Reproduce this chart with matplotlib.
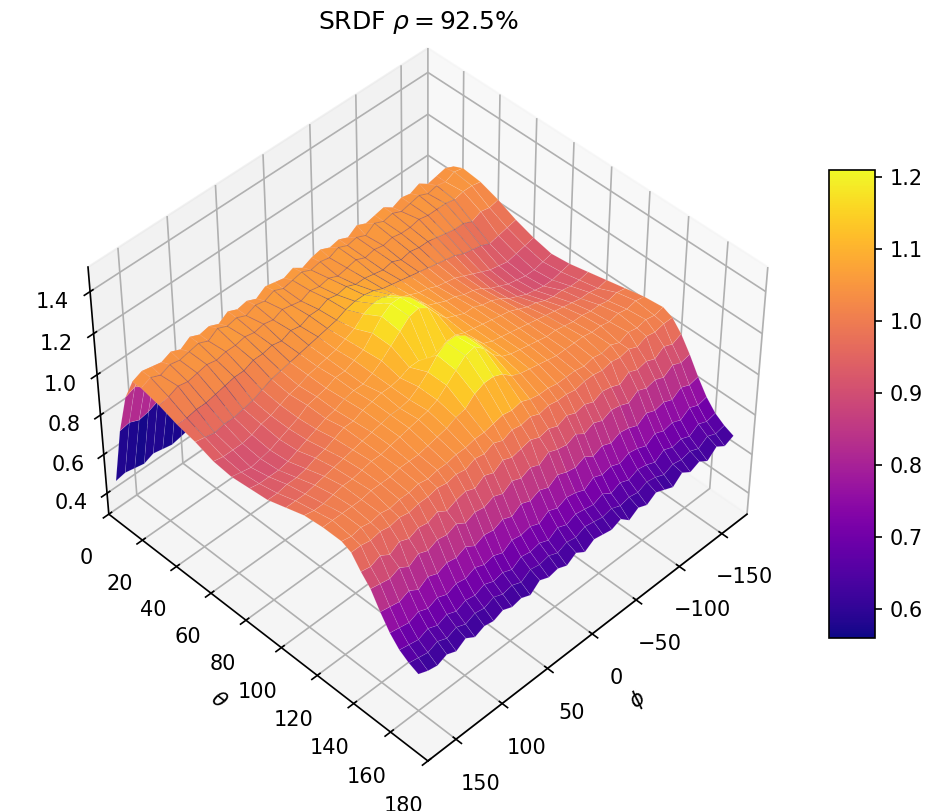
import numpy as np
import matplotlib
matplotlib.use("Agg")
import matplotlib.pyplot as plt

phi=[-180,-170,-160,-150,-140,-130,-120,-110,-100,-90,-80,-70,-60,-50,-40,-30,-20,-10,0,10,20,30,40,50,60,70,80,90,100,110,120,130,140,150,160,170]
theta=[0,5,10,15,20,30,40,50,60,70,80,90,100,110,120,130,135,140,145,150,155,160,165,170]

phi_ticks=[-150,-100,-50,0,50,100,150]
theta_ticks=[0,20,40,60,80,100,120,140,160,180]
z_ticks=[0.4,0.6,0.8,1.0,1.2,1.4]
cbar_ticks=[0.6,0.7,0.8,0.9,1.0,1.1,1.2]

srdf=[
[.43,.44,.42,.44,.43,.42,.44,.43,.43,.42,.44,.43,.42,.43,.44,.42,.43,.44,.43,.42,.44,.43,.42,.43,.44,.43,.42,.44,.43,.42,.43,.44,.42,.43,.44,.43],
[.72,.71,.73,.71,.72,.74,.71,.73,.72,.71,.73,.72,.74,.71,.72,.73,.71,.72,.74,.72,.71,.73,.72,.71,.74,.72,.73,.71,.72,.73,.71,.74,.72,.71,.73,.72],
[.92,.93,.91,.94,.92,.93,.95,.92,.93,.91,.94,.93,.92,.95,.93,.92,.94,.93,.95,.92,.94,.93,.91,.94,.92,.93,.95,.92,.93,.91,.94,.92,.93,.91,.94,.92],
[1.03,1.05,1.04,1.03,1.06,1.04,1.05,1.03,1.06,1.05,1.04,1.06,1.03,1.05,1.04,1.06,1.05,1.03,1.06,1.04,1.05,1.06,1.03,1.05,1.04,1.06,1.03,1.05,1.04,1.06,1.03,1.05,1.03,1.04,1.05,1.03],
[1.05,1.06,1.04,1.05,1.04,1.06,1.05,1.04,1.06,1.05,1.07,1.04,1.06,1.05,1.07,1.05,1.06,1.05,1.07,1.06,1.05,1.07,1.05,1.06,1.04,1.06,1.05,1.07,1.04,1.06,1.05,1.04,1.05,1.03,1.05,1.03],
[1.04,1.05,1.05,1.04,1.05,1.05,1.05,1.06,1.05,1.05,1.06,1.05,1.06,1.05,1.07,1.06,1.05,1.07,1.06,1.07,1.05,1.06,1.07,1.05,1.06,1.05,1.06,1.05,1.05,1.04,1.05,1.04,1.03,1.04,1.02,1.01],
[1.01,1.00,1.01,.99,1.01,1.01,1.02,1.03,1.04,1.04,1.05,1.04,1.06,1.05,1.06,1.07,1.07,1.09,1.08,1.09,1.07,1.07,1.05,1.06,1.04,1.05,1.04,1.04,1.02,1.02,1.01,1.00,.99,.99,.98,.98],
[.97,.96,.95,.94,.96,.97,.98,1.00,1.01,1.02,1.03,1.04,1.05,1.06,1.07,1.08,1.10,1.11,1.11,1.10,1.08,1.07,1.06,1.05,1.04,1.03,1.02,1.01,.99,.97,.96,.95,.95,.94,.95,.96],
[.94,.93,.92,.91,.92,.93,.95,.97,.99,1.01,1.02,1.03,1.05,1.06,1.08,1.10,1.14,1.16,1.16,1.14,1.10,1.08,1.06,1.05,1.04,1.03,1.01,1.00,.98,.96,.95,.93,.92,.92,.92,.93],
[.92,.91,.90,.90,.91,.92,.94,.96,.99,1.01,1.02,1.04,1.05,1.07,1.09,1.14,1.19,1.22,1.22,1.19,1.14,1.09,1.07,1.05,1.05,1.03,1.02,1.01,.98,.96,.94,.92,.91,.90,.91,.92],
[.93,.92,.91,.91,.92,.93,.95,.97,1.00,1.02,1.03,1.05,1.05,1.07,1.09,1.14,1.20,1.23,1.22,1.18,1.14,1.10,1.07,1.05,1.05,1.04,1.02,1.01,.99,.97,.95,.93,.92,.92,.92,.93],
[.95,.94,.94,.95,.95,.96,.98,.99,1.01,1.03,1.04,1.05,1.06,1.07,1.08,1.10,1.10,1.07,1.07,1.10,1.10,1.08,1.07,1.07,1.06,1.05,1.03,1.03,1.01,.99,.98,.96,.95,.95,.94,.94],
[.97,.96,.97,.97,.98,.99,1.00,1.01,1.02,1.03,1.04,1.05,1.06,1.07,1.09,1.14,1.19,1.22,1.22,1.19,1.14,1.10,1.07,1.06,1.06,1.05,1.04,1.03,1.02,1.01,1.00,.99,.98,.97,.97,.97],
[.99,1.00,.99,1.00,1.00,1.01,1.01,1.02,1.03,1.03,1.04,1.05,1.06,1.07,1.09,1.13,1.19,1.23,1.22,1.18,1.14,1.10,1.08,1.07,1.06,1.05,1.04,1.03,1.03,1.02,1.01,1.01,1.00,.99,.99,1.00],
[1.01,1.02,1.01,1.02,1.01,1.02,1.02,1.03,1.03,1.03,1.03,1.04,1.05,1.06,1.07,1.09,1.13,1.15,1.15,1.13,1.09,1.08,1.06,1.05,1.04,1.03,1.03,1.03,1.02,1.02,1.02,1.01,1.01,1.01,1.01,1.01],
[1.02,1.01,1.02,1.01,1.02,1.00,1.02,1.01,1.02,1.01,1.02,1.02,1.02,1.03,1.03,1.04,1.06,1.05,1.06,1.05,1.04,1.04,1.03,1.03,1.02,1.02,1.01,1.02,1.01,1.01,1.00,1.01,1.00,1.01,1.00,1.01],
[1.00,1.00,.99,1.00,.98,1.00,.99,1.00,.99,1.00,1.00,.99,1.00,1.00,1.01,1.00,1.02,1.01,1.02,1.00,1.02,1.00,1.01,.99,1.00,.99,1.00,.99,.99,.98,.99,.98,.99,.98,.99,.99],
[.95,.93,.95,.92,.94,.93,.95,.92,.94,.95,.93,.95,.94,.96,.94,.96,.95,.97,.96,.95,.97,.94,.96,.93,.95,.94,.92,.95,.93,.94,.92,.94,.91,.94,.92,.93],
[.88,.87,.89,.86,.88,.87,.89,.86,.88,.89,.87,.89,.87,.90,.88,.89,.91,.88,.90,.88,.90,.87,.89,.87,.88,.86,.89,.87,.88,.86,.88,.85,.88,.86,.87,.88],
[.80,.79,.81,.78,.80,.79,.81,.78,.80,.81,.79,.81,.79,.82,.80,.81,.83,.80,.82,.80,.82,.79,.81,.79,.80,.78,.81,.79,.80,.78,.80,.77,.80,.78,.79,.80],
[.73,.72,.74,.71,.73,.72,.74,.71,.73,.74,.72,.74,.73,.75,.72,.74,.75,.73,.75,.72,.74,.73,.74,.71,.73,.72,.74,.72,.73,.71,.73,.71,.73,.71,.72,.73],
[.68,.67,.69,.66,.68,.67,.69,.66,.68,.69,.67,.69,.67,.70,.68,.69,.70,.68,.70,.67,.69,.68,.69,.66,.68,.67,.69,.67,.68,.66,.68,.66,.68,.66,.67,.68],
[.65,.64,.66,.63,.65,.64,.65,.63,.65,.66,.64,.65,.64,.66,.65,.66,.67,.65,.66,.64,.66,.65,.66,.63,.65,.64,.66,.64,.65,.63,.65,.63,.65,.63,.64,.65],
[.63,.61,.64,.60,.63,.61,.64,.60,.62,.64,.61,.63,.60,.64,.62,.63,.64,.61,.64,.61,.63,.62,.64,.60,.62,.61,.63,.61,.62,.60,.63,.60,.62,.60,.61,.63],
]

X,Y=np.meshgrid(phi,theta)
Z=np.array(srdf)

W,H=946,811
fig=plt.figure(figsize=(W/150,H/150),dpi=150)
ax=fig.add_subplot(projection="3d",computed_zorder=False)
ax.set_position([0.032,0.0555,0.820,0.892])
ax.view_init(elev=45,azim=45)
surf=ax.plot_surface(X,Y,Z,cmap="plasma",vmin=0.56,vmax=1.21,linewidth=0.3,edgecolor=(1,1,1,0.15),antialiased=True,rstride=1,cstride=1,zorder=1)
# dark seams of the far slope showing through near the ridge
ax.plot_wireframe(X[4:8,3:-1],Y[4:8,3:-1],Z[4:8,3:-1],color="#4a2a48",alpha=0.35,linewidth=0.4,rstride=1,cstride=1,zorder=2)
ax.set_xlim(-180,180)
ax.set_ylim(0,180)
ax.set_zlim(0.29,1.515)
ax.set_xticks(phi_ticks)
ax.set_yticks(theta_ticks)
ax.set_zticks(z_ticks)
ax.tick_params(axis="x",pad=5)
ax.tick_params(axis="y",pad=5)
ax.tick_params(axis="z",pad=2)
ax.set_xlabel(r"$\phi$")
ax.set_ylabel(r"$\theta$")
fig.text(418/W,1-22/H,r"SRDF $\rho = 92.5\%$",ha="center",va="center",fontsize=12)

cax=fig.add_axes([829/W,1-638/H,46/W,468/H])
cb=fig.colorbar(surf,cax=cax)
cb.set_ticks(cbar_ticks)
fig.savefig("out.png",dpi=150)
